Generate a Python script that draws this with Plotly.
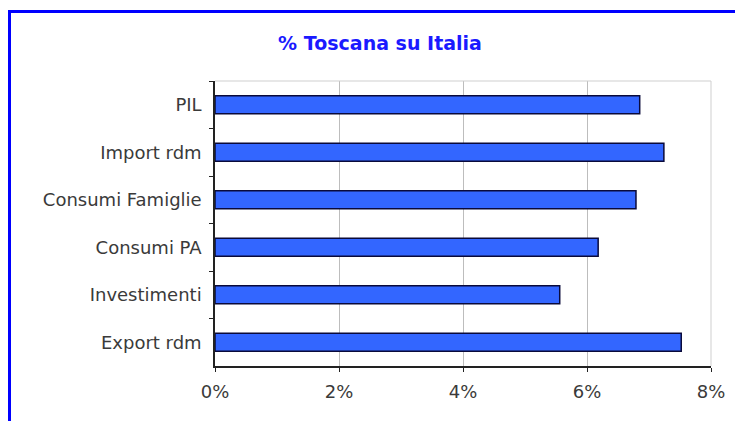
import plotly.graph_objects as go

categories = ["PIL", "Import rdm", "Consumi Famiglie", "Consumi PA", "Investimenti", "Export rdm"]
values = [6.85, 7.24, 6.79, 6.18, 5.56, 7.52]
x_ticks = [0, 2, 4, 6, 8]
x_tick_labels = ["0%", "2%", "4%", "6%", "8%"]
title_text = "% Toscana su Italia"

# page is offset by the default 8px body margin
OFF = 8
W, H = 743, 421
L, R, T, B = 215 - OFF, 711 - OFF, 81 - OFF, 366 - OFF

def px_x(p):
    return (p - OFF - L) / (R - L)

def px_y(p):
    return (B - (p - OFF)) / (B - T)

fig = go.Figure()
fig.add_trace(go.Bar(
    y=categories, x=values, orientation="h",
    marker=dict(color="#3366FF", line=dict(color="#0a0a3a", width=1.5)),
    hoverinfo="x+y",
))

fig.update_layout(
    width=W, height=H,
    margin=dict(l=L, r=W - R, t=T, b=H - B, pad=0),
    paper_bgcolor="white", plot_bgcolor="white",
    showlegend=False,
    bargap=0.62,
    title=dict(text="<b>" + title_text + "</b>", x=(380 - OFF) / W, xanchor="center",
               y=1 - (43 - OFF) / H, yanchor="middle",
               font=dict(family="DejaVu Sans", size=19, color="#1a1aff")),
    font=dict(family="DejaVu Sans", size=18, color="#3a3a3a"),
    xaxis=dict(range=[0, 8], tickvals=x_ticks, ticktext=x_tick_labels,
               showgrid=True, gridcolor="#bdbdbd", gridwidth=1,
               showline=True, linecolor="#222222", linewidth=1.5,
               ticks="outside", ticklen=4, tickcolor="#222222",
               tickfont=dict(size=18, color="#3a3a3a"), zeroline=False,
               ticklabelstandoff=5, fixedrange=True),
    yaxis=dict(autorange="reversed", showline=True, linecolor="#222222", linewidth=1.5,
               ticks="outside", ticklen=4, tickcolor="#222222", tickson="boundaries",
               showgrid=False, tickfont=dict(size=18, color="#3a3a3a"),
               ticklabelstandoff=8, fixedrange=True),
    shapes=[
        dict(type="line", xref="paper", yref="paper", x0=0, x1=1, y0=1, y1=1,
             line=dict(color="#cfcfcf", width=1)),
        dict(type="line", xref="paper", yref="paper", x0=1, x1=1, y0=0, y1=1,
             line=dict(color="#cfcfcf", width=1)),
        dict(type="line", xref="paper", yref="paper", x0=px_x(8), x1=px_x(780),
             y0=px_y(11.5), y1=px_y(11.5), line=dict(color="#0000ff", width=3)),
        dict(type="line", xref="paper", yref="paper", x0=px_x(9.5), x1=px_x(9.5),
             y0=px_y(10), y1=px_y(460), line=dict(color="#0000ff", width=3)),
    ],
)

fig.write_html("out.html")
